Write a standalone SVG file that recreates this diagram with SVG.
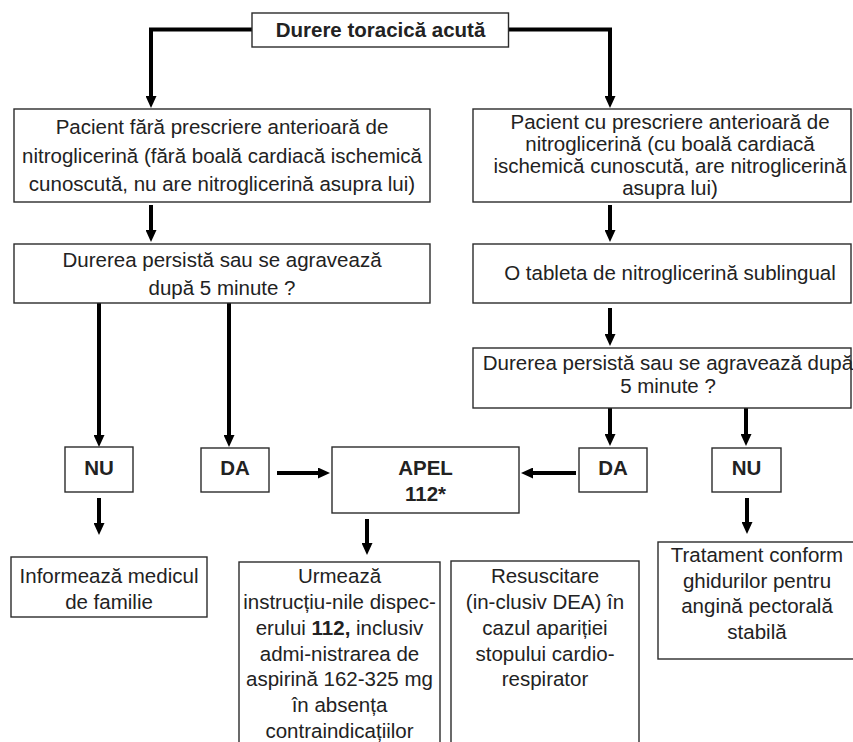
<svg xmlns="http://www.w3.org/2000/svg" width="853" height="742" viewBox="0 0 853 742">
  <style>
    .box { fill: #fff; stroke: #2b2b2b; stroke-width: 1.4; }
    .t { font-family: "Liberation Sans", Arial, sans-serif; font-size: 20.5px; fill: #222; text-anchor: middle; }
    .b { font-weight: bold; }
    .c { fill: none; stroke: #000; stroke-width: 4; stroke-linejoin: miter; marker-end: url(#ah); }
  </style>
  <defs>
    <marker id="ah" viewBox="0 0 12 11" refX="2" refY="5.5" markerWidth="12" markerHeight="11" markerUnits="userSpaceOnUse" orient="auto">
      <path d="M0,0 L12,5.5 L0,11 z" fill="#000"/>
    </marker>
  </defs>
  <rect width="853" height="742" fill="#fff"/>

  <!-- connectors -->
  <g id="connectors">
    <path class="c" d="M252,29.5 H151 V98"/>
    <path class="c" d="M508,29.5 H610 V98"/>
    <path class="c" d="M151,205 V232"/>
    <path class="c" d="M610,205 V232"/>
    <path class="c" d="M610,308 V336"/>
    <path class="c" d="M99,303 V437"/>
    <path class="c" d="M229,303 V437"/>
    <path class="c" d="M610,408 V436"/>
    <path class="c" d="M746,408 V436"/>
    <path class="c" d="M277,473 H320"/>
    <path class="c" d="M576,473 H531"/>
    <path class="c" d="M99,498 V525"/>
    <path class="c" d="M367,519 V545"/>
    <path class="c" d="M747,498 V524"/>
  </g>

  <g id="start">
    <rect class="box" x="252" y="13" width="256.5" height="34"/>
    <text class="t b" x="380.5" y="37">Durere toracică acută</text>
  </g>

  <g id="no-nitro">
    <rect class="box" x="14" y="109" width="416" height="93"/>
    <text class="t" x="222" y="134">Pacient fără prescriere anterioară de</text>
    <text class="t" x="222" y="162.5">nitroglicerină (fără boală cardiacă ischemică</text>
    <text class="t" x="222" y="191">cunoscută, nu are nitroglicerină asupra lui)</text>
  </g>

  <g id="with-nitro">
    <rect class="box" x="473" y="109" width="378" height="93"/>
    <text class="t" x="670" y="129">Pacient cu prescriere anterioară de</text>
    <text class="t" x="670" y="151">nitroglicerină (cu boală cardiacă</text>
    <text class="t" x="670" y="173">ischemică cunoscută, are nitroglicerină</text>
    <text class="t" x="670" y="195">asupra lui)</text>
  </g>

  <g id="check-left">
    <rect class="box" x="14" y="244" width="416" height="59"/>
    <text class="t" x="222" y="267">Durerea persistă sau se agravează</text>
    <text class="t" x="222" y="295">după 5 minute ?</text>
  </g>

  <g id="tablet">
    <rect class="box" x="473" y="244" width="378" height="59"/>
    <text class="t" x="670" y="280">O tableta de nitroglicerină sublingual</text>
  </g>

  <g id="check-right">
    <rect class="box" x="473" y="348" width="378" height="60"/>
    <text class="t" x="668" y="370">Durerea persistă sau se agravează după</text>
    <text class="t" x="668" y="393">5 minute ?</text>
  </g>

  <g id="nu-left">
    <rect class="box" x="65" y="447" width="68" height="45"/>
    <text class="t b" x="99" y="475">NU</text>
  </g>

  <g id="da-left">
    <rect class="box" x="201" y="448" width="68" height="44"/>
    <text class="t b" x="235" y="475">DA</text>
  </g>

  <g id="apel">
    <rect class="box" x="332" y="447" width="187" height="66"/>
    <text class="t b" x="425.5" y="475">APEL</text>
    <text class="t b" x="425.5" y="501">112*</text>
  </g>

  <g id="da-right">
    <rect class="box" x="579" y="448" width="68" height="44"/>
    <text class="t b" x="613" y="475">DA</text>
  </g>

  <g id="nu-right">
    <rect class="box" x="712" y="448" width="69" height="44"/>
    <text class="t b" x="746.5" y="475">NU</text>
  </g>

  <g id="inform">
    <rect class="box" x="11" y="557" width="196" height="60"/>
    <text class="t" x="109" y="583">Informează medicul</text>
    <text class="t" x="109" y="609">de familie</text>
  </g>

  <g id="dispatcher">
    <rect class="box" x="239" y="562" width="201" height="200"/>
    <text class="t" x="339.5" y="583">Urmează</text>
    <text class="t" x="339.5" y="609">instrucțiu-nile dispec-</text>
    <text class="t" x="339.5" y="635">erului <tspan class="b">112,</tspan> inclusiv</text>
    <text class="t" x="339.5" y="660.5">admi-nistrarea de</text>
    <text class="t" x="339.5" y="686">aspirină 162-325 mg</text>
    <text class="t" x="339.5" y="712">în absența</text>
    <text class="t" x="339.5" y="738">contraindicațiilor</text>
  </g>

  <g id="resuscitation">
    <rect class="box" x="451" y="561" width="188" height="200"/>
    <text class="t" x="545" y="583">Resuscitare</text>
    <text class="t" x="545" y="609">(in-clusiv DEA) în</text>
    <text class="t" x="545" y="635">cazul apariției</text>
    <text class="t" x="545" y="660.5">stopului cardio-</text>
    <text class="t" x="545" y="686">respirator</text>
  </g>

  <g id="stable-angina">
    <rect class="box" x="658" y="542" width="210" height="117"/>
    <text class="t" x="757" y="562">Tratament conform</text>
    <text class="t" x="757" y="587.5">ghidurilor pentru</text>
    <text class="t" x="757" y="613">angină pectorală</text>
    <text class="t" x="757" y="638.5">stabilă</text>
  </g>
</svg>
